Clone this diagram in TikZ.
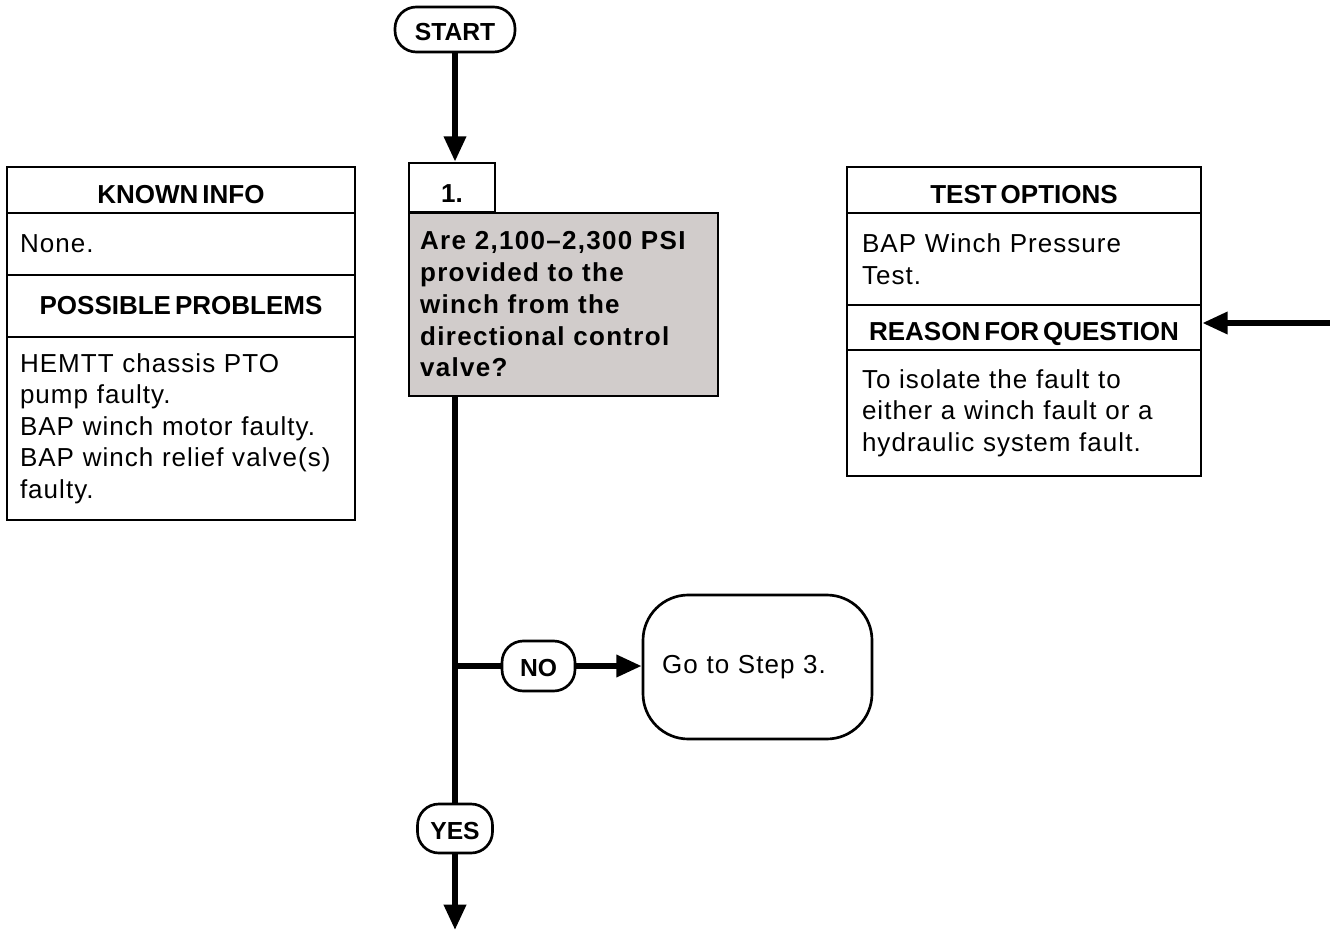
\documentclass[tikz,border=0pt]{standalone}
\usepackage{fontspec}
\setmainfont{Liberation Sans}
\newfontfamily\bodyfont{Liberation Sans}[LetterSpace=4]
\newfontfamily\qfont{Liberation Sans}[LetterSpace=5]
\usetikzlibrary{arrows.meta,calc}
\definecolor{qgray}{RGB}{209,204,203}
\begin{document}
\begin{tikzpicture}[x=0.75pt,y=-0.75pt,
  box/.style={draw,line width=2pt,rectangle,inner sep=0pt},
  hdr/.style={box,font=\fontsize{19.5}{22}\selectfont\bfseries},
  low/.style={text height=#1,text depth=0pt},
  cell/.style={box,font=\bodyfont\fontsize{19.5}{23.7}\selectfont,align=left,text width=#1},
  pill/.style={draw,line width=2pt,rounded corners=16pt,inner sep=0pt,font=\fontsize{18.5}{22}\selectfont\bfseries},
  flow/.style={line width=4.25pt},
  tip/.style={-{Triangle[length=19pt,width=16pt]}}]
\useasboundingbox (0,0) rectangle (1330,930);
% left panel
\node[hdr,low=20pt,minimum width=261pt,minimum height=34.5pt] (known) at (181,190) {KNOWN\hspace{3pt}INFO};
\node[cell=241.5pt,minimum width=261pt,minimum height=46.5pt] (none) at (181,244) {None.};
\node[hdr,minimum width=261pt,minimum height=46.5pt] (possible) at (181,306) {POSSIBLE\hspace{3pt}PROBLEMS};
\node[cell=241.5pt,minimum width=261pt,minimum height=137.25pt] (problems) at (181,428.5) {HEMTT chassis PTO\\pump faulty.\\BAP winch motor faulty.\\BAP winch relief valve(s)\\faulty.};
% right panel
\node[hdr,low=20pt,minimum width=265.5pt,minimum height=34.5pt] (testopt) at (1024,190) {TEST\hspace{3pt}OPTIONS};
\node[cell=243pt,minimum width=265.5pt,minimum height=69pt] (test) at (1024,259) {BAP Winch Pressure\\Test.};
\node[hdr,low=20pt,minimum width=265.5pt,minimum height=33.75pt] (reason) at (1024,327.5) {REASON\hspace{3pt}FOR\hspace{3pt}QUESTION};
\node[cell=243pt,minimum width=265.5pt,minimum height=94.5pt] (reasontxt) at (1024,413) {To isolate the fault to\\either a winch fault or a\\hydraulic system fault.};
% centre column
\node[pill,low=16pt,minimum width=90pt,minimum height=33.75pt] (start) at (455,29.5) {START};
\node[box,low=22pt,minimum width=64.5pt,minimum height=36.75pt,font=\fontsize{19.5}{22}\selectfont\bfseries] (s1) at (452,187.5) {1.};
\node[box,fill=qgray,minimum width=231.75pt,minimum height=137.25pt,text width=215pt,align=left,
      font=\qfont\bfseries\fontsize{19.5}{23.8}\selectfont] (q1) at (563.5,304.5)
      {Are 2,100–2,300 PSI\\provided to the\\winch from the\\directional control\\valve?};
\node[pill,low=16pt,minimum width=54.75pt,minimum height=37.5pt] (no) at (538.5,666) {NO};
\node[box,rounded corners=34pt,minimum width=171.75pt,minimum height=108pt,text width=143pt,align=left,
      font=\bodyfont\fontsize{19.5}{23.7}\selectfont] (go) at (757.5,667) {Go to Step 3.};
\node[pill,low=16pt,minimum width=56.25pt,minimum height=36.75pt] (yes) at (455,828.5) {YES};
\coordinate (br) at (455,666);
\coordinate (end) at (455,930);
\coordinate (rin) at (1330,323);
% connectors
\draw[flow,tip] (start.south) -- (start.south |- s1.north);
\draw[flow] (start |- q1.south) -- (yes.north);
\draw[flow] (br) -- (no.west);
\draw[flow,tip] (no.east) -- (no.east -| go.west);
\draw[flow,tip] (yes.south) -- (end);
\draw[flow,tip] (rin) -- (rin -| reason.east);
\end{tikzpicture}
\end{document}
